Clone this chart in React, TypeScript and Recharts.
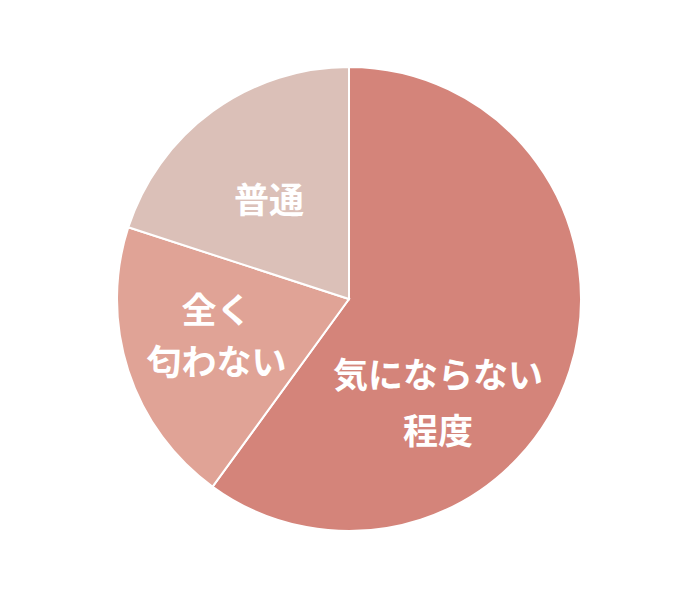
import React from "react";
import { PieChart, Pie, Cell } from "recharts";

const categories = ["気にならない程度", "全く匂わない", "普通"];
const values = [60, 20, 20];
const labelLines = [["気にならない", "程度"], ["全く", "匂わない"], ["普通"]];
const colors = ["#D4847A", "#E0A396", "#DBC0B8"];

const data = categories.map((name, i) => ({ name, value: values[i] }));

// label placement (angle in degrees from 3 o'clock, counter-clockwise; radius as fraction of outer radius)
const labelPlacement = [
  { angle: -48.6, r: 0.58 },
  { angle: 194.5, r: 0.59 },
  { angle: 128, r: 0.56 },
];

const RADIAN = Math.PI / 180;

const renderLabel = (props: any) => {
  const { cx, cy, outerRadius, index } = props;
  const p = labelPlacement[index];
  const x = cx + Math.cos(p.angle * RADIAN) * outerRadius * p.r;
  const y = cy - Math.sin(p.angle * RADIAN) * outerRadius * p.r;
  const lines = labelLines[index];
  const lh = index === 1 ? 52 : 56;
  const start = y - ((lines.length - 1) * lh) / 2;
  return (
    <text
      x={x}
      y={start}
      fill="#ffffff"
      textAnchor="middle"
      dominantBaseline="central"
      fontFamily="'Noto Sans CJK JP', sans-serif"
      fontWeight={700}
      fontSize={35}
    >
      {lines.map((l, i) => (
        <tspan key={i} x={x} dy={i === 0 ? 0 : lh}>
          {l}
        </tspan>
      ))}
    </text>
  );
};

export default function App() {
  return (
    <div style={{ position: "absolute", left: 0, top: 0, background: "#fff" }}>
      <PieChart width={695} height={599} margin={{ top: 0, right: 0, bottom: 0, left: 0 }}>
        <Pie
          data={data}
          dataKey="value"
          nameKey="name"
          cx={349}
          cy={299}
          outerRadius={232}
          startAngle={90}
          endAngle={-270}
          stroke="#ffffff"
          strokeWidth={2}
          label={renderLabel}
          labelLine={false}
          isAnimationActive={false}
        >
          {data.map((d, i) => (
            <Cell key={d.name} fill={colors[i]} />
          ))}
        </Pie>
      </PieChart>
    </div>
  );
}
